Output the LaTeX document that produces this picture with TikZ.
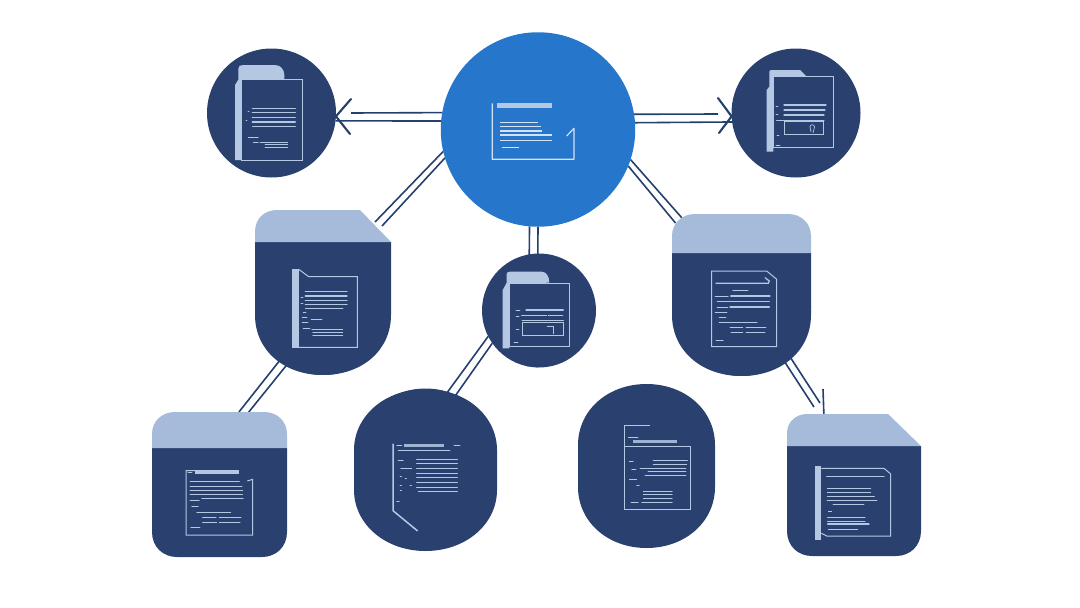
\documentclass[tikz,border=0pt]{standalone}
\usetikzlibrary{backgrounds}
\definecolor{navy}{HTML}{2A4170}
\definecolor{hubblue}{HTML}{2676CB}
\definecolor{paleblue}{HTML}{A6BBD9}
\definecolor{iconblue}{HTML}{B4C8E4}
\definecolor{iconwhite}{HTML}{D3E2F4}
\definecolor{linkblue}{HTML}{24406E}
\tikzset{
  badge/.style={circle,fill=navy,inner sep=0pt,outer sep=0pt},
  slot/.style={rectangle,inner sep=0pt,outer sep=0pt},
  link/.style={draw=linkblue,line width=1.6pt},
  barb/.style={draw=linkblue,line width=2.1pt,line cap=round,line join=round},
  docframe/.style={draw=iconblue,line width=1pt},
  docline/.style={draw=iconblue,line cap=round},
}
% one text line per entry: from x, to x, y, width
\newcommand{\doclines}[1]{\foreach \xa/\xb/\yy/\lw in {#1} \draw[docline,line width=\lw pt] (\xa,\yy) -- (\xb,\yy);}
\begin{document}
\begin{tikzpicture}[x=1pt,y=-1pt]
  \useasboundingbox (0,0) rectangle (1080,608);
  % round parts
  \node[circle,fill=hubblue,inner sep=0pt,outer sep=0pt,minimum size=194.5pt] (hub) at (538,129.5) {};
  \foreach \name/\x/\y/\d in {topleft/271.5/113/129,topright/796/113/129,middle/539/310.5/114,leftcard/323/307/136,rightcard/741.5/306.5/139,stadium/425.5/460/143,oval/646.5/466/120} {
    \node[badge,minimum size=\d pt] (\name) at (\x,\y) {};
  }
  \node[slot,minimum width=135pt,minimum height=145pt] (cornerleft) at (219.5,484.5) {};
  \node[slot,minimum width=134pt,minimum height=142pt] (cornerright) at (854,485) {};
  % bodies
  \fill[navy] (255,242) -- (391,242) -- (391,315) .. controls (391,350) and (362.5,375) .. (323,375) .. controls (283.5,375) and (255,350) .. (255,315) -- cycle;
  \fill[paleblue] (255,242) -- (255,232) .. controls (255,218) and (265,210) .. (277,210) -- (360,210) -- (391,242) -- cycle;
  \fill[navy] (672,253) -- (811,253) -- (811,315) .. controls (811,350) and (782,376) .. (741.5,376) .. controls (701,376) and (672,350) .. (672,315) -- cycle;
  \fill[paleblue] (672,253) -- (672,236) .. controls (672,223) and (682,214) .. (695,214) -- (788,214) .. controls (801,214) and (811,223) .. (811,236) -- (811,253) -- cycle;
  \fill[navy] (354,450) .. controls (354,416) and (385,389) .. (425.5,389) .. controls (466,389) and (497,416) .. (497,450) -- (497,490) .. controls (497,524) and (466,551) .. (425.5,551) .. controls (385,551) and (354,524) .. (354,490) -- cycle;
  \fill[navy] (578,445) .. controls (578,410) and (608,384) .. (646.5,384) .. controls (685,384) and (715,410) .. (715,445) -- (715,487) .. controls (715,522) and (685,548) .. (646.5,548) .. controls (608,548) and (578,522) .. (578,487) -- cycle;
  \fill[navy] (152,448) -- (287,448) -- (287,532) .. controls (287,547) and (276,557) .. (262,557) -- (177,557) .. controls (163,557) and (152,547) .. (152,532) -- cycle;
  \fill[paleblue] (152,448) -- (152,434) .. controls (152,421) and (162,412) .. (175,412) -- (264,412) .. controls (277,412) and (287,421) .. (287,434) -- (287,448) -- cycle;
  \fill[navy] (787,446) -- (921,446) -- (921,531) .. controls (921,546) and (910,556) .. (896,556) -- (812,556) .. controls (798,556) and (787,546) .. (787,531) -- cycle;
  \fill[paleblue] (787,446) -- (787,433) .. controls (787,422) and (796,414) .. (807,414) -- (888,414) -- (921,446) -- cycle;

  % free ends of the links
  \foreach \name/\x/\y in {barbA/351/113,barbB/718/114,cutA/375/222,cutB/382/226,capA/682/218,capB/675.5/223,dropA/814/407,dropB/820/403,tickA/823/389,headTLa/351/99,headTLb/350/134,headTRa/718/98,headTRb/719/133} {
    \coordinate (\name) at (\x,\y);
  }
  % links
  \begin{scope}[on background layer]
    \foreach \from/\to in {hub.170.2/barbA,hub.175/topleft.-7,hub.9.2/barbB,hub.4.4/topright.188,hub.193.9/cutA,hub.197.8/cutB,hub.-18.2/capA,hub.-22.6/capB,hub.265/middle.259,hub.270.5/middle.268,middle.207.9/stadium.72,middle.215.7/stadium.65,leftcard.231.8/cornerleft.75.7,leftcard.238/cornerleft.68.5,rightcard.-46.7/dropB,rightcard.-52.7/dropA} {
      \draw[link] (\from) -- (\to);
    }
    \draw[barb,line width=1.6pt,line cap=butt] (tickA) -- (cornerright.113.6);
    \draw[barb] (headTLa) -- (topleft.-3.5) -- (headTLb);
    \draw[barb] (headTRa) -- (topright.183.6) -- (headTRb);
  \end{scope}

  % hub icon
  \fill[iconblue] (496.7,103.3) rectangle (551.7,107.7);
  \draw[draw=iconwhite,line width=1.2pt,line join=round] (492.3,103.3) -- (492.3,159.3) -- (574,159.3) -- (574,128.3) -- (566.7,136);
  \foreach \xa/\xb/\yy/\lw in {500/538.3/122.7/0.8,500/540.7/126.7/1.1,500/541.7/131/1.1,500/551.7/135/2,500/551.7/140.3/1.2,501.7/519.3/147.7/0.7} {
    \draw[draw=iconwhite,line width=\lw pt] (\xa,\yy) -- (\xb,\yy);
  }

  % top left icon
  \fill[iconblue] (238.3,79.7) -- (238.3,69) .. controls (238.3,66) and (240,65) .. (243,65) -- (275,65) .. controls (281,65) and (284.3,70) .. (284.3,75) -- (284.3,79.3) -- (241.7,79.7) -- (241.7,160) -- (235,160) -- (235,85) -- cycle;
  \draw[docframe] (241.7,79.3) rectangle (302,160);
  \doclines{252.3/295.3/108.3/1,252.3/295.3/112.7/1.2,252.3/295.3/117.3/1.2,252.3/295.3/122/1.4,252.7/295.3/126.7/1.4,248.3/258.3/137.3/0.5,253.3/258.3/142.3/0.5,260/287.7/142.3/0.7,265/287.7/144.7/0.6,265/287.7/147.3/0.6,248/249/111/0.8,246/247/120/0.8}

  % top right icon
  \fill[iconblue] (769.3,86.7) -- (769.3,72) .. controls (769.3,70.5) and (770,70) .. (772,70) -- (800,70) -- (806.7,76.7) -- (773.3,76.7) -- (773.3,151.7) -- (766.7,151.7) -- (766.7,90) -- cycle;
  \draw[docframe] (773.3,76.7) rectangle (833.3,147.7);
  \doclines{784/826/105/1.3,784/825/110/1.3,784/824/115/1.2,776.7/824/120/1,776/778/106/0.7,776/778/114/0.7,777/779/135/0.7,776/780/145/0.7}
  \draw[docframe] (784,121.7) rectangle (823.3,134.7);
  \draw[docframe,line width=0.7pt] (813,133) -- (814.5,127) .. controls (814.5,124) and (810,124) .. (810,127) -- (811,132);

  % left capsule icon
  \fill[iconblue] (292,269.3) rectangle (298.7,347.3);
  \draw[docframe] (298.7,269.3) -- (308.7,276.7) -- (357.3,276.7) -- (357.3,347.3) -- (292,347.3);
  \doclines{305.3/347/291.7/1.2,305.3/347/296/1.2,305.3/347/300.3/1.2,305.3/347/304.7/1.2,305.3/343/308.3/0.6,311.7/342.7/329/0.8,312.7/342.7/332/0.8,312.7/342.7/335/0.8,301/303/297/0.6,301/303/303/0.6,303/306/312/0.5,302/307/317/0.5,311/322/319/0.5,302/308/322/0.5,303/310/328/0.5}

  % middle icon
  \fill[iconblue] (506.7,282.7) -- (506.7,274) .. controls (506.7,272.5) and (508,271.7) .. (510,271.7) -- (541.7,271.7) .. controls (546,271.7) and (549.3,276) .. (549.3,282.7) -- (509.3,283.3) -- (509.3,348.3) -- (502.7,348.3) -- (502.7,290) -- cycle;
  \draw[docframe] (509.3,283.3) rectangle (569,346);
  \doclines{526/563.3/310/1.2,521.7/546.7/315.7/1,548.3/562.7/315.7/1,522/563.3/320.7/1,516/520/310/0.6,516/519/316/0.5,516/519/329/0.5,514/518/342/0.7}
  \draw[docframe] (522,322.3) rectangle (563.3,335);
  \draw[docframe,line width=0.7pt] (547,326) -- (553.3,326) -- (553.3,334);

  % right capsule icon
  \draw[docframe] (711.7,271) -- (766.7,271) -- (776.7,279.3) -- (776.7,346.7) -- (711.7,346.7) -- cycle;
  \draw[docline,line width=1.2pt] (716,283.3) -- (768.3,283.3) -- (769.3,281) -- (765,277.7);
  \doclines{732.7/748/290/0.7,715/728.3/296/0.6,730.7/770/296/1.2,717/728/301.3/0.5,727/769.3/301.3/1.2,717/728/307/0.5,730/769.3/307/1.2,715/727/312.7/0.5,719/726/317.7/0.5,719/757.3/322.7/0.7,730/742.7/327.3/0.7,746/766/327.3/0.9,731/742.7/332.3/0.7,746/765/332.3/0.9,716/723.3/340/0.7}

  % lower right icon
  \fill[iconblue] (814.7,466.3) rectangle (821.3,540);
  \draw[docframe] (821.3,468.3) -- (884,468.3) -- (890.7,474) -- (890.7,536) -- (826.7,536) -- (821.3,533.3);
  \doclines{826.7/884/476.7/1.2,827.3/870.7/488.3/1,827.3/870.7/492.3/1,827.3/874.3/496.3/1,827.3/876.7/500.3/1.3,833/864/504/0.7,828.3/831.7/511.7/0.5,827.7/865/517/1,827.7/865/521/1,827.7/869/524/1.3,828.3/857.7/529.3/1}

  % lower left icon
  \fill[iconblue] (195,470.3) rectangle (238.7,474);
  \draw[docframe] (195,470.7) -- (186,470.7) -- (186,535) -- (252.7,535) -- (252.7,479.3) -- (247.3,481);
  \doclines{188/192/472/0.7,190/239.3/481.7/0.9,190/242/486/1,190/242.7/490.3/1,190/242.3/494.7/1,201.7/243.3/498.3/0.6,190/199.3/500.3/0.8,191.7/198.3/506/0.6,196.7/230.7/512/0.8,202.7/216/517.7/1,219.3/241/517.7/1,202.7/216.7/522.3/1,219.3/240/522.3/1,190.7/200/527.3/0.7}

  % stadium icon
  \draw[docline,line width=1.5pt,line join=round] (393,444) -- (393,510.7) -- (417.3,530.7);
  \fill[iconblue!85!navy] (404,444.3) rectangle (444,447.3);
  \doclines{396.7/401.7/445.7/0.8,454/460/445/0.8,398.3/450/450.7/0.6,416.7/457.3/459/1,416.7/457.3/463.7/1,416.7/457.3/468.3/1,416.7/457.3/473/1,416.7/457.3/477.7/1,416.7/457.3/482.3/1,416.7/457.3/487/1,418.3/457.3/491.7/1,398/403.3/460/0.5,400.7/411.7/468.3/0.5,400/401.5/476/0.6,405/406.5/478.7/0.5,400/401.5/485/0.6,410/411.5/485/0.6,400/401.5/490.7/0.5,396.7/399.3/501.7/0.5}

  % oval icon
  \draw[docframe,line width=0.8pt] (650,425.3) -- (624,425.3) -- (624,509.3) -- (690.7,509.3) -- (690.7,446) -- (624,446);
  \fill[iconblue!85!navy] (633.3,439.6) rectangle (677.3,442.6);
  \doclines{628.3/638/437/0.5,653.3/687.3/460/0.9,653.3/686.7/464.3/0.7,640/686/468.7/0.6,648/686/471.7/0.6,645/686/475/0.7,629.3/633.3/461/0.5,631.7/636/469.3/0.6,629.3/636.7/479.3/0.5,636.7/639.3/485.3/0.5,643.3/672.3/491.7/0.7,643.3/672.3/494.7/0.7,643.3/672.3/498.3/0.7,641.7/672.3/502.3/0.7,631/638.3/502.3/0.6}
\end{tikzpicture}
\end{document}
